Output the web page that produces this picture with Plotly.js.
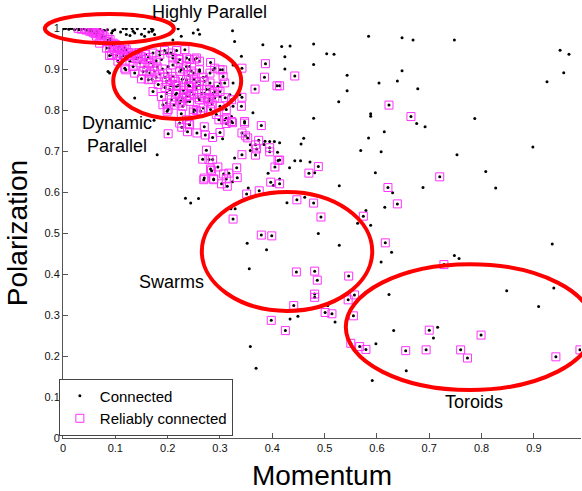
<!DOCTYPE html>
<html>
<head>
<meta charset="utf-8">
<script src="https://cdn.plot.ly/plotly-3.0.1.min.js"></script>
<style>
  html, body { margin: 0; padding: 0; background: #fff; overflow: hidden; }
  #chart { width: 582px; height: 491px; }
</style>
</head>
<body>
<div id="chart"></div>
<script>
// [momentum, polarization] pairs for runs that stayed connected
const highlyParallelDots = [
  [0.001,0.998],[0.005,0.999],[0.011,0.997],[0.013,0.999],[0.017,0.999],[0.022,0.996],[0.028,0.998],
  [0.030,0.996],[0.034,0.997],[0.041,0.999],[0.047,0.995],[0.050,0.997],[0.055,0.998],[0.063,0.996],
  [0.065,0.993],[0.070,0.997],[0.078,0.994],[0.085,0.996],[0.095,0.993],[0.115,0.999],[0.121,0.998],
  [0.132,0.999],[0.142,0.998],[0.169,0.999],[0.172,0.996],[0.164,0.990],[0.150,0.985],[0.137,0.988],
  [0.128,0.982],[0.110,0.990],[0.099,0.996],[0.093,0.988],[0.080,0.993],[0.156,0.980],[0.175,0.984],
  [0.156,0.999],[0.170,0.992],[0.134,0.992],[0.121,0.984],[0.220,0.998],[0.226,0.980],[0.210,0.971],
  [0.249,0.988],[0.261,0.985],[0.258,0.996],[0.324,0.993],[0.382,0.959],[0.418,0.955],[0.086,0.894],
  [0.137,0.829],[0.174,0.775]
];
const dynamicDots = [
  [0.185,0.943],[0.198,0.939],[0.210,0.935],[0.188,0.923],[0.201,0.906],[0.226,0.898],[0.242,0.906],
  [0.261,0.894],[0.274,0.882],[0.287,0.858],[0.300,0.833],[0.271,0.841],[0.255,0.858],[0.236,0.866],
  [0.210,0.858],[0.198,0.841],[0.217,0.825],[0.236,0.821],[0.325,0.866],[0.325,0.809],[0.338,0.837],
  [0.363,0.793],[0.325,0.910],[0.287,0.898],[0.300,0.866],[0.395,0.723],[0.414,0.720],[0.089,0.890],
  [0.341,0.931],[0.328,0.967],[0.319,0.837],[0.180,0.691],[0.305,0.730],[0.322,0.784],[0.358,0.715],
  [0.358,0.701],[0.384,0.716],[0.404,0.723],[0.386,0.724],[0.410,0.697],[0.392,0.646],[0.328,0.683],
  [0.234,0.585],[0.244,0.573],[0.259,0.584]
];
const spreadDots = [
  [0.434,0.956],[0.479,0.961],[0.584,0.980],[0.648,0.976],[0.669,0.971],[0.748,0.971],[0.950,0.946],
  [0.967,0.936],[0.957,0.891],[0.925,0.869],[0.424,0.930],[0.424,0.900],[0.479,0.911],[0.504,0.937],
  [0.518,0.936],[0.543,0.885],[0.648,0.896],[0.604,0.866],[0.639,0.871],[0.678,0.852],[0.543,0.847],
  [0.527,0.820],[0.479,0.780],[0.588,0.791],[0.588,0.785],[0.676,0.767],[0.692,0.759],[0.787,0.779],
  [0.614,0.747],[0.584,0.732],[0.460,0.731],[0.455,0.717],[0.569,0.701],[0.608,0.698],[0.753,0.691],
  [0.898,0.710],[0.443,0.676],[0.454,0.676],[0.472,0.673],[0.433,0.659],[0.481,0.647],[0.597,0.647],
  [0.808,0.650],[0.827,0.610],[0.688,0.611],[0.528,0.615],[0.630,0.598],[0.462,0.587],[0.428,0.574],
  [0.615,0.563],[0.579,0.555],[0.588,0.519],[0.488,0.499],[0.528,0.470],[0.935,0.473],[0.414,0.632],
  [0.354,0.610],[0.324,0.625],[0.402,0.616],[0.321,0.559],[0.329,0.559],[0.563,0.524],[0.352,0.475],
  [0.623,0.350],[0.848,0.359],[0.938,0.366],[0.909,0.321],[0.506,0.323],[0.434,0.290],[0.449,0.297],
  [0.520,0.283],[0.632,0.262],[0.716,0.270],[0.708,0.244],[0.598,0.230],[0.656,0.164],[0.591,0.140],
  [0.628,0.453],[0.748,0.445],[0.757,0.438],[0.608,0.429],[0.356,0.413],[0.389,0.459],[0.358,0.223],
  [0.369,0.170]
];

// runs that stayed reliably connected (also counted as connected)
const highlyParallelSquares = [
  [0.029,0.999],[0.041,0.998],[0.048,0.996],[0.054,0.993],[0.067,0.988],[0.076,0.982],[0.086,0.971],
  [0.096,0.963],[0.089,0.951],[0.112,0.947],[0.121,0.931],[0.059,0.988],[0.073,0.976],[0.086,0.967],
  [0.083,0.951],[0.093,0.935],[0.070,0.963],[0.064,0.980],[0.108,0.955],[0.121,0.947],[0.131,0.939],
  [0.118,0.902],[0.105,0.919],[0.076,0.992],[0.051,0.992],[0.035,0.997],[0.044,0.995],[0.057,0.990],
  [0.062,0.986],[0.070,0.985],[0.080,0.978],[0.090,0.972],[0.094,0.958],[0.100,0.960],[0.105,0.950],
  [0.115,0.944],[0.118,0.952],[0.125,0.940],[0.130,0.933],[0.138,0.936],[0.140,0.925],[0.098,0.945],
  [0.110,0.928],[0.089,0.933],[0.102,0.933],[0.115,0.933]
];
const dynamicSquares = [
  [0.120,0.898],[0.134,0.906],[0.137,0.890],[0.147,0.915],[0.153,0.894],[0.150,0.876],[0.163,0.874],
  [0.166,0.890],[0.172,0.906],[0.172,0.939],[0.185,0.935],[0.194,0.945],[0.206,0.939],[0.233,0.947],
  [0.255,0.927],[0.236,0.906],[0.223,0.894],[0.210,0.882],[0.198,0.870],[0.182,0.862],[0.172,0.845],
  [0.188,0.833],[0.198,0.817],[0.191,0.813],[0.201,0.801],[0.223,0.817],[0.242,0.821],[0.255,0.799],
  [0.268,0.805],[0.261,0.825],[0.281,0.825],[0.287,0.841],[0.274,0.850],[0.255,0.850],[0.242,0.858],
  [0.236,0.874],[0.249,0.890],[0.261,0.898],[0.281,0.890],[0.300,0.898],[0.306,0.882],[0.309,0.866],
  [0.296,0.858],[0.281,0.866],[0.261,0.870],[0.217,0.858],[0.204,0.850],[0.217,0.841],[0.236,0.833],
  [0.223,0.923],[0.210,0.927],[0.242,0.923],[0.159,0.923],[0.143,0.927],[0.128,0.919],[0.322,0.825],
  [0.341,0.809],[0.312,0.801],[0.293,0.789],[0.309,0.776],[0.322,0.772],[0.347,0.772],[0.290,0.902],
  [0.261,0.919],[0.236,0.776],[0.223,0.768],[0.242,0.764],[0.229,0.809],[0.207,0.825],[0.217,0.945],
  [0.252,0.924],[0.236,0.927],[0.282,0.916],[0.305,0.898],[0.342,0.902],[0.387,0.913],[0.385,0.880],
  [0.409,0.859],[0.367,0.851],[0.342,0.831],[0.300,0.809],[0.279,0.828],[0.250,0.801],[0.312,0.780],
  [0.165,0.915],[0.155,0.905],[0.175,0.895],[0.200,0.890],[0.210,0.910],[0.220,0.915],[0.230,0.900],
  [0.240,0.885],[0.250,0.875],[0.260,0.860],[0.270,0.870],[0.280,0.850],[0.290,0.845],[0.300,0.845],
  [0.310,0.830],[0.240,0.860],[0.228,0.875],[0.245,0.895],[0.268,0.880],[0.255,0.868],[0.233,0.840],
  [0.242,0.835],[0.225,0.822],[0.212,0.812],[0.178,0.880],[0.170,0.875],[0.160,0.895],[0.190,0.900],
  [0.185,0.888],[0.195,0.880],[0.205,0.875],[0.215,0.870],[0.220,0.860],[0.230,0.848],[0.245,0.845],
  [0.250,0.838],[0.258,0.830],[0.265,0.840],[0.270,0.830],[0.278,0.820],[0.285,0.815],[0.290,0.830],
  [0.228,0.830],[0.215,0.838],[0.205,0.860],[0.195,0.855],[0.145,0.940],[0.150,0.930],[0.158,0.935],
  [0.163,0.928],[0.168,0.915],[0.178,0.920],[0.180,0.905],
  [0.199,0.797],[0.226,0.791],[0.249,0.795],[0.263,0.797],[0.282,0.801],[0.298,0.776],[0.312,0.767],
  [0.324,0.769],[0.347,0.768],[0.379,0.762],[0.374,0.726],[0.227,0.758],[0.241,0.765],[0.238,0.747],
  [0.201,0.742],[0.256,0.744],[0.270,0.759],[0.272,0.739],[0.286,0.733],[0.300,0.745],[0.342,0.744],
  [0.349,0.737],[0.353,0.732],[0.368,0.715],[0.395,0.708],[0.395,0.698],[0.370,0.705],[0.368,0.690],
  [0.342,0.691],[0.274,0.702],[0.267,0.680],[0.279,0.679],[0.286,0.679],[0.296,0.661],[0.282,0.656],
  [0.284,0.652],[0.307,0.644],[0.317,0.646],[0.332,0.659],[0.333,0.635],[0.312,0.632],[0.288,0.632],
  [0.270,0.634],[0.411,0.677],[0.405,0.661]
];
const spreadSquares = [
  [0.443,0.883],[0.414,0.859],[0.623,0.812],[0.665,0.784],[0.414,0.678],[0.488,0.662],[0.470,0.646],
  [0.414,0.620],[0.621,0.611],[0.720,0.637],[0.447,0.581],[0.479,0.573],[0.639,0.571],[0.493,0.539],
  [0.574,0.541],[0.616,0.476],[0.269,0.630],[0.288,0.630],[0.303,0.620],[0.314,0.614],[0.351,0.595],
  [0.375,0.603],[0.397,0.624],[0.325,0.534],[0.379,0.495],[0.399,0.493],
  [0.446,0.405],[0.481,0.407],[0.486,0.385],[0.546,0.395],[0.481,0.351],[0.481,0.343],[0.557,0.349],
  [0.545,0.337],[0.441,0.323],[0.501,0.306],[0.514,0.303],[0.555,0.298],[0.425,0.262],[0.398,0.287],
  [0.700,0.263],[0.799,0.251],[0.550,0.231],[0.567,0.223],[0.579,0.216],[0.655,0.213],[0.694,0.215],
  [0.760,0.215],[0.773,0.195],[0.942,0.198],[0.988,0.215],[0.728,0.423]
];

const allDots = [].concat(highlyParallelDots, dynamicDots, spreadDots);
const allSquares = [].concat(highlyParallelSquares, dynamicSquares, spreadSquares);
const connected = allDots.concat(allSquares);

const xTicks = [0, 0.1, 0.2, 0.3, 0.4, 0.5, 0.6, 0.7, 0.8, 0.9];
const yTicks = [0, 0.1, 0.2, 0.3, 0.4, 0.5, 0.6, 0.7, 0.8, 0.9, 1];

// behaviour regions outlined on the plane (paper fractions of the plot area)
const regions = [
  {name: 'Highly Parallel', box: [-0.035, 0.963, 0.214, 1.034], label: [0.282, 1.039]},
  {name: 'Dynamic<br>Parallel', box: [0.097, 0.778, 0.344, 0.963], label: [0.104, 0.741]},
  {name: 'Swarms', box: [0.268, 0.310, 0.597, 0.600], label: [0.210, 0.380]},
  {name: 'Toroids', box: [0.546, 0.117, 1.025, 0.424], label: [0.793, 0.088]}
];

const traces = [
  {
    type: 'scatter', mode: 'markers', name: 'Connected',
    x: connected.map(p => p[0]), y: connected.map(p => p[1]),
    marker: {symbol: 'circle', size: 3, color: '#000'},
    hoverinfo: 'skip'
  },
  {
    type: 'scatter', mode: 'markers', name: 'Reliably connected',
    x: allSquares.map(p => p[0]), y: allSquares.map(p => p[1]),
    marker: {symbol: 'square-open', size: 8, color: '#ff33ff', line: {width: 1, color: '#ff33ff'}},
    hoverinfo: 'skip'
  }
];

const axisCommon = {
  ticks: 'inside', ticklen: 5, tickcolor: '#555', tickwidth: 1,
  showline: true, linecolor: '#555', linewidth: 1,
  showgrid: false, zeroline: false, mirror: false,
  tickfont: {size: 11, color: '#111'}
};

const layout = {
  width: 582, height: 491,
  margin: {l: 63, r: 1, t: 28, b: 53},
  paper_bgcolor: '#fff', plot_bgcolor: '#fff',
  font: {family: 'Liberation Sans, Arial, Helvetica, sans-serif', color: '#000'},
  showlegend: true,
  legend: {
    x: -0.008, y: 0.006, xanchor: 'left', yanchor: 'bottom',
    bgcolor: '#fff', bordercolor: '#444', borderwidth: 1,
    font: {size: 15, color: '#000'}, tracegroupgap: 0
  },
  xaxis: Object.assign({}, axisCommon, {
    range: [0, 0.99], tickvals: xTicks, ticktext: xTicks.map(String),
    title: {text: 'Momentum', font: {size: 28}, standoff: 12}
  }),
  yaxis: Object.assign({}, axisCommon, {
    range: [0, 1], tickvals: yTicks, ticktext: yTicks.map(String),
    title: {text: 'Polarization', font: {size: 28}, standoff: 8}
  }),
  shapes: regions.map(r => ({
    type: 'circle', xref: 'paper', yref: 'paper', layer: 'above',
    x0: r.box[0], y0: r.box[1], x1: r.box[2], y1: r.box[3],
    line: {color: '#ff0000', width: 4}
  })),
  annotations: regions.map(r => ({
    xref: 'paper', yref: 'paper', x: r.label[0], y: r.label[1],
    xanchor: 'center', yanchor: 'middle', showarrow: false, align: 'center',
    text: r.name, font: {size: 18, color: '#000'}
  }))
};

Plotly.newPlot('chart', traces, layout, {displayModeBar: false, staticPlot: true});
</script>
</body>
</html>
